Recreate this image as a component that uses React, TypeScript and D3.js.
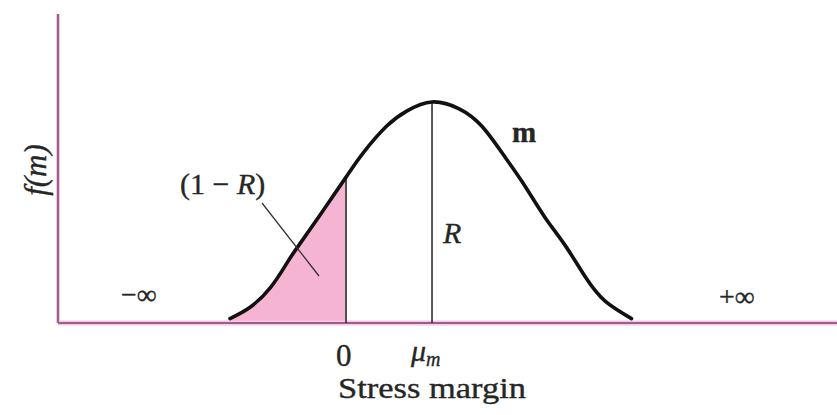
import React from "react";
import * as d3 from "d3";

// Stress-margin density curve m, sampled as (margin, f(m)) pairs; margin in units of μm
const marginValues = [-1.35, -1.12, -0.88, -0.69, -0.57, -0.3, 0, 0.2, 0.47, 0.71, 1.0, 1.31, 1.58, 1.85, 2.08, 2.31, 2.55, 2.78, 3.01, 3.32];
const densityValues = [0.02, 0.07, 0.16, 0.27, 0.34, 0.49, 0.66, 0.77, 0.89, 0.96, 1.0, 0.97, 0.89, 0.75, 0.62, 0.48, 0.35, 0.21, 0.1, 0.02];

// Marked positions on the margin axis
const zeroMargin = 0;
const meanMargin = 1.0;

const W = 837;
const H = 415;
const plot = { left: 58, right: 837, top: 14, bottom: 323 };

const FONT = "'Liberation Serif', 'Times New Roman', Times, serif";
const TEXT = "#262626";
const AXIS = "#9c5f8c";
const FILL = "#f5b4d1";

export default function App() {
  const x = d3.scaleLinear().domain([-3.35, 5.71]).range([plot.left, plot.right]);
  const y = d3.scaleLinear().domain([0, 1.398]).range([plot.bottom, plot.top]);

  const pts: [number, number][] = marginValues.map((m, i) => [m, densityValues[i]]);

  const line = d3
    .line<[number, number]>()
    .x((d) => x(d[0]))
    .y((d) => y(d[1]))
    .curve(d3.curveNatural);

  const area = d3
    .area<[number, number]>()
    .x((d) => x(d[0]))
    .y0(y(0))
    .y1((d) => y(d[1]))
    .curve(d3.curveNatural);

  const fAt = (m: number) => densityValues[marginValues.indexOf(m)];

  return (
    <svg
      width={W}
      height={H}
      viewBox={`0 0 ${W} ${H}`}
      style={{ position: "absolute", left: 0, top: 0, background: "#fff" }}
    >
      <defs>
        <clipPath id="tail-clip">
          <rect x={plot.left} y={plot.top} width={x(zeroMargin) - plot.left} height={y(0) - plot.top} />
        </clipPath>
      </defs>

      {/* unreliability tail (1 − R) */}
      <path d={area(pts) ?? ""} fill={FILL} clipPath="url(#tail-clip)" />

      {/* axes */}
      <line x1={plot.left} x2={plot.right} y1={y(0)} y2={y(0)} stroke="#f6c6e4" strokeWidth={5} />
      <line x1={plot.left} x2={plot.left} y1={plot.top} y2={y(0)} stroke="#f6c6e4" strokeWidth={4} />
      <line x1={plot.left} x2={plot.right} y1={y(0)} y2={y(0)} stroke={AXIS} strokeWidth={2} />
      <line x1={plot.left} x2={plot.left} y1={plot.top} y2={y(0)} stroke={AXIS} strokeWidth={2} />

      {/* verticals at 0 and μm */}
      <line x1={x(zeroMargin)} x2={x(zeroMargin)} y1={y(0)} y2={y(fAt(zeroMargin))} stroke="#222" strokeWidth={1.5} />
      <line x1={x(meanMargin)} x2={x(meanMargin)} y1={y(0)} y2={y(fAt(meanMargin))} stroke="#222" strokeWidth={1.5} />

      {/* density curve */}
      <path d={line(pts) ?? ""} fill="none" stroke="#111" strokeWidth={3.6} strokeLinecap="round" />

      {/* leader for (1 − R) */}
      <line x1={262} y1={203} x2={319} y2={276} stroke="#333" strokeWidth={1.3} />

      <g fontFamily={FONT} fill={TEXT} stroke={TEXT} strokeWidth={0.35}>
        <text
          transform="translate(46,170) rotate(-90)"
          textAnchor="middle"
          fontSize={31}
          fontStyle="italic"
        >
          f(m)
        </text>
        <text x={180} y={194} fontSize={30}>
          (1 − <tspan fontStyle="italic">R</tspan>)
        </text>
        <text x={443} y={243} fontSize={30} fontStyle="italic">R</text>
        <text x={512} y={142} fontSize={29} fontWeight="bold">m</text>
        <text x={121} y={304} fontSize={28}>−∞</text>
        <text x={719} y={306} fontSize={28}>+∞</text>
        <text x={336} y={366} fontSize={31}>0</text>
        <text x={411} y={361} fontSize={30} fontStyle="italic">
          μ<tspan fontSize={20} dy={5}>m</tspan>
        </text>
        <text x={338} y={398} fontSize={30} textLength={188} lengthAdjust="spacingAndGlyphs">
          Stress margin
        </text>
      </g>
    </svg>
  );
}
